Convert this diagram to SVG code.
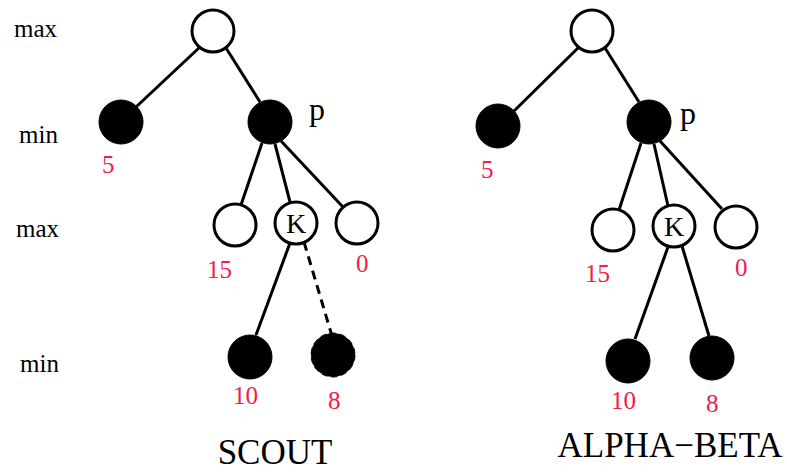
<svg xmlns="http://www.w3.org/2000/svg" width="787" height="472" viewBox="0 0 787 472">
<style>
.o{fill:#fff;stroke:#000;stroke-width:3}
.f{fill:#000;stroke:#000;stroke-width:1}
.e{stroke:#000;stroke-width:3;fill:none}
.d{stroke:#000;stroke-width:3;fill:none;stroke-dasharray:9,6}
text{font-family:"Liberation Serif","Times New Roman",serif;fill:#000}
.lv{font-size:25px}
.v{font-size:25px;fill:#f0204c}
.k{font-size:28px}
.p{font-size:32px}
.t{font-size:35px}
</style>
<rect width="787" height="472" fill="#fff"/>
<g id="levels">
<text class="lv" x="14" y="37">max</text>
<text class="lv" x="19" y="143">min</text>
<text class="lv" x="16" y="237">max</text>
<text class="lv" x="20" y="372">min</text>
</g>
<g id="connectors">
<line class="e" x1="200" y1="47" x2="136" y2="107"/>
<line class="e" x1="226" y1="48" x2="260" y2="102"/>
<line class="e" x1="262" y1="143" x2="241" y2="205"/>
<line class="e" x1="275" y1="144" x2="290" y2="202"/>
<line class="e" x1="281" y1="141" x2="343" y2="207"/>
<line class="e" x1="290" y1="243" x2="256" y2="335"/>
<line class="d" x1="304" y1="242" x2="332" y2="336"/>
<line class="e" x1="579" y1="47" x2="514" y2="111"/>
<line class="e" x1="605" y1="48" x2="639" y2="102"/>
<line class="e" x1="641" y1="143" x2="619" y2="210"/>
<line class="e" x1="654" y1="144" x2="668" y2="206"/>
<line class="e" x1="660" y1="141" x2="722" y2="209"/>
<line class="e" x1="668" y1="247" x2="635" y2="339"/>
<line class="e" x1="682" y1="246" x2="709" y2="336"/>
</g>
<g id="scout-root"><circle class="o" cx="213" cy="31" r="21"/></g>
<g id="scout-min-left"><circle class="f" cx="121" cy="122" r="22"/><text class="v" x="102" y="173">5</text></g>
<g id="scout-p"><circle class="f" cx="270" cy="122" r="22"/><text class="p" x="309" y="120">p</text></g>
<g id="scout-K"><circle class="o" cx="296" cy="223" r="21"/><text class="k" x="296" y="233" text-anchor="middle">K</text></g>
<g id="scout-max-15"><circle class="o" cx="235" cy="225" r="21"/><text class="v" x="207" y="278">15</text></g>
<g id="scout-max-0"><circle class="o" cx="357" cy="223" r="21"/><text class="v" x="356" y="272">0</text></g>
<g id="scout-min-10"><circle class="f" cx="250" cy="357" r="22"/><text class="v" x="233" y="404">10</text></g>
<g id="scout-min-8"><circle class="f" cx="333" cy="355" r="22" stroke-dasharray="6,4"/><text class="v" x="328" y="409">8</text></g>
<g id="ab-root"><circle class="o" cx="592" cy="31" r="21"/></g>
<g id="ab-min-left"><circle class="f" cx="498" cy="126" r="22"/><text class="v" x="481" y="178">5</text></g>
<g id="ab-p"><circle class="f" cx="649" cy="122" r="22"/><text class="p" x="680" y="124">p</text></g>
<g id="ab-K"><circle class="o" cx="674" cy="226" r="21"/><text class="k" x="674" y="236" text-anchor="middle">K</text></g>
<g id="ab-max-15"><circle class="o" cx="613" cy="230" r="21"/><text class="v" x="585" y="282">15</text></g>
<g id="ab-max-0"><circle class="o" cx="736" cy="227" r="21"/><text class="v" x="735" y="276">0</text></g>
<g id="ab-min-10"><circle class="f" cx="628" cy="361" r="22"/><text class="v" x="611" y="409">10</text></g>
<g id="ab-min-8"><circle class="f" cx="712" cy="358" r="22"/><text class="v" x="706" y="412">8</text></g>
<g id="titles">
<text class="t" x="275" y="464" text-anchor="middle">SCOUT</text>
<text class="t" x="670" y="457" text-anchor="middle">ALPHA−BETA</text>
</g>
</svg>
